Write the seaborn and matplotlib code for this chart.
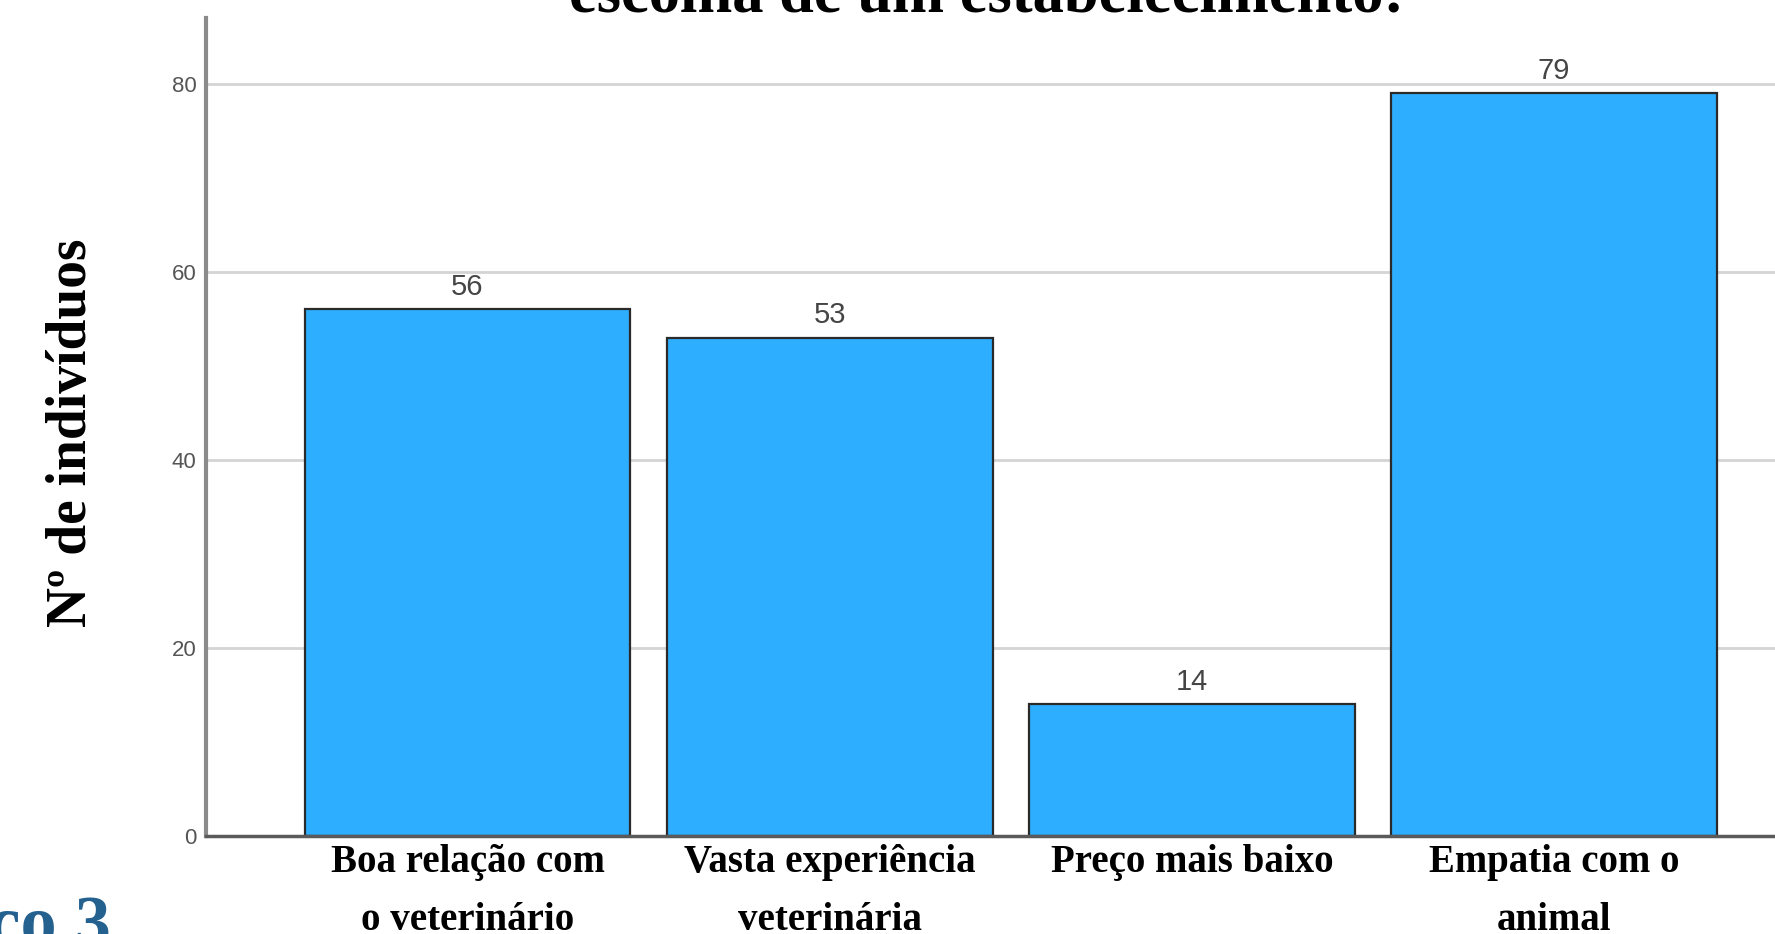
import matplotlib
matplotlib.use("Agg")
import matplotlib.pyplot as plt
import seaborn as sns
import pandas as pd

# ---- data ----
categories = ["Boa relação com\no veterinário",
              "Vasta experiência\nveterinária",
              "Preço mais baixo",
              "Empatia com o\nanimal"]
counts = [56, 53, 14, 79]
yticks = [0, 20, 40, 60, 80]
title_text = "escolha de um estabelecimento:"
ylabel_text = "Nº de indivíduos"
caption_text = "Gráfico 3"

sns.set_theme(style="white")
plt.rcParams["font.family"] = ["Liberation Serif", "DejaVu Sans"]

W, H = 1775, 934
fig = plt.figure(figsize=(W / 100, H / 100), dpi=100)
fig.patch.set_facecolor("white")
ax = fig.add_axes([206 / W, 98 / H, 1 - 206 / W, 818 / H])
ax.set_facecolor("white")

df = pd.DataFrame({"cat": categories, "n": counts})
sns.barplot(data=df, x="cat", y="n", color="#2DAEFE", saturation=1,
            width=0.9, edgecolor="#2a2a2a", linewidth=1.6, ax=ax)

ax.set_xlim(-0.722, 3.61)
ax.set_ylim(0, 87)
ax.set_yticks(yticks)
ax.set_yticklabels([str(v) for v in yticks], fontfamily="Liberation Sans",
                   fontsize=16, color="#555555")
ax.yaxis.grid(True, color="#d4d4d4", linewidth=2)
ax.xaxis.grid(False)
ax.set_axisbelow(True)

ax.set_xticks(range(len(categories)))
ax.set_xticklabels(categories, fontfamily="Liberation Serif", fontweight="bold",
                   fontsize=28, linespacing=1.75, color="black")
ax.tick_params(axis="x", length=0, pad=6)
ax.tick_params(axis="y", length=0, pad=7)
ax.set_xlabel("")
ax.set_ylabel("")

for s in ["top", "right"]:
    ax.spines[s].set_visible(False)
ax.spines["left"].set_color("#8a8a8a")
ax.spines["left"].set_linewidth(3)
ax.spines["bottom"].set_color("#5a5a5a")
ax.spines["bottom"].set_linewidth(2.5)

ax.bar_label(ax.containers[0], padding=6, fontsize=21, color="#454545",
             fontfamily="Liberation Sans")

fig.text(72 / W, 1 - 433 / H, ylabel_text, rotation=90, ha="center", va="center",
         fontsize=40, fontweight="bold", fontfamily="Liberation Serif", color="black")
fig.text(987 / W, 1 - 11 / H, title_text, ha="center", va="baseline",
         fontsize=45, fontweight="bold", fontfamily="Liberation Serif", color="black")
fig.text(111 / W, -12 / H, caption_text, ha="right", va="baseline",
         fontsize=52, fontweight="bold", fontfamily="Liberation Serif", color="#25618F")

fig.savefig("out.png", dpi=100)
